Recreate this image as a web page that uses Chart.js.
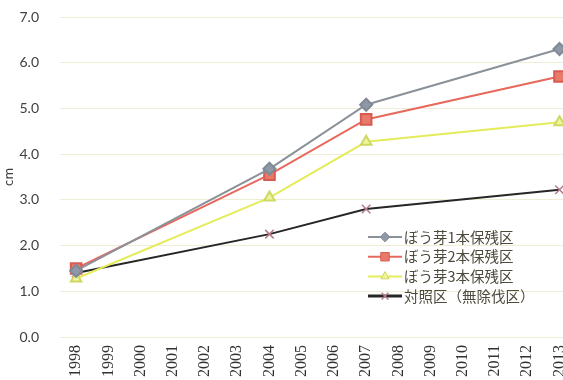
<!DOCTYPE html>
<html>
<head>
<meta charset="utf-8">
<script src="https://cdn.jsdelivr.net/npm/chart.js@4"></script>
<style>
  html, body { margin: 0; padding: 0; background: #ffffff; overflow: hidden; }
  #wrap { width: 587px; height: 380px; position: relative; }
</style>
</head>
<body>
<div id="wrap"><canvas id="c"></canvas></div>
<script>
// Survey years (x categories)
const years = ['1998','1999','2000','2001','2002','2003','2004','2005','2006','2007','2008','2009','2010','2011','2012','2013'];

// Mean growth (cm); measured only in 1998, 2004, 2007 and 2013
const sprout1 = [1.45, null, null, null, null, null, 3.68, null, null, 5.08, null, null, null, null, null, 6.30];
const sprout2 = [1.50, null, null, null, null, null, 3.55, null, null, 4.76, null, null, null, null, null, 5.70];
const sprout3 = [1.28, null, null, null, null, null, 3.05, null, null, 4.27, null, null, null, null, null, 4.70];
const control = [1.40, null, null, null, null, null, 2.25, null, null, 2.80, null, null, null, null, null, 3.22];

const seriesNames = ['ぼう芽1本保残区', 'ぼう芽2本保残区', 'ぼう芽3本保残区', '対照区（無除伐区）'];
const yTicks = [0, 1, 2, 3, 4, 5, 6, 7];

const datasets = [
  { label: seriesNames[0], data: sprout1, borderColor: '#8b9199', backgroundColor: '#8f99a6',
    pointStyle: 'rectRot', pointRadius: 6, borderWidth: 2, pointBorderColor: '#7f8a96' },
  { label: seriesNames[1], data: sprout2, borderColor: '#e8685c', backgroundColor: '#e87a6c',
    pointStyle: 'rect', pointRadius: 7.5, borderWidth: 2, pointBorderColor: '#d95a50' },
  { label: seriesNames[2], data: sprout3, borderColor: '#e4ec5c', backgroundColor: '#eef59a',
    pointStyle: 'triangle', pointRadius: 6, borderWidth: 2, pointBorderColor: '#cfd860' },
  { label: seriesNames[3], data: control, borderColor: '#262626', backgroundColor: '#c08a96',
    pointStyle: 'crossRot', pointRadius: 6, borderWidth: 2, pointBorderColor: '#b57c88', pointBorderWidth: 1.5 }
].map(d => Object.assign({ spanGaps: true, tension: 0, fill: false }, d));

// Legend drawn inside the plot area, lower right
const innerLegend = {
  id: 'innerLegend',
  afterDraw(chart) {
    const ctx = chart.ctx;
    const x0 = 368, y0 = 237, rowH = 19.7;
    ctx.save();
    ctx.font = '14.5px "Noto Sans CJK JP"';
    ctx.textBaseline = 'middle';
    ctx.textAlign = 'left';
    chart.data.datasets.forEach((ds, i) => {
      const y = y0 + i * rowH;
      ctx.strokeStyle = ds.borderColor;
      ctx.lineWidth = i === 3 ? 3 : 2;
      ctx.beginPath();
      ctx.moveTo(x0, y);
      ctx.lineTo(x0 + 34, y);
      ctx.stroke();
      ctx.fillStyle = ds.backgroundColor;
      ctx.strokeStyle = ds.pointBorderColor;
      ctx.lineWidth = ds.pointBorderWidth || 1;
      Chart.helpers.drawPoint(ctx, { pointStyle: ds.pointStyle, radius: ds.pointRadius * 0.8, borderWidth: 1 }, x0 + 17, y);
      ctx.fillStyle = '#4d4a3c';
      ctx.fillText(ds.label, x0 + 36, y);
    });
    ctx.restore();
  }
};

new Chart(document.getElementById('c'), {
  type: 'line',
  data: { labels: years, datasets },
  options: {
    responsive: true,
    maintainAspectRatio: false,
    animation: false,
    layout: { padding: { top: 0, right: 7, bottom: 0, left: 0 } },
    plugins: { legend: { display: false }, tooltip: { enabled: false } },
    scales: {
      x: {
        type: 'category',
        offset: true,
        grid: { display: false, drawTicks: false },
        border: { display: false },
        ticks: {
          minRotation: 90, maxRotation: 90, padding: 8, autoSkip: false,
          color: '#333333', font: { family: '"Liberation Serif"', size: 16 }
        },
        afterFit: s => { s.height = 43; }
      },
      y: {
        min: 0, max: 7,
        afterBuildTicks: s => { s.ticks = yTicks.map(v => ({ value: v })); },
        grid: { color: 'rgba(226,222,180,0.55)', borderDash: [2, 4], drawTicks: false, lineWidth: 1 },
        border: { display: false },
        ticks: {
          padding: 21, color: '#404040',
          font: { family: 'Lato', size: 14 },
          callback: v => v.toFixed(1)
        },
        title: {
          display: true, text: 'cm', color: '#404040',
          font: { family: '"Noto Sans CJK JP"', size: 13 }, padding: { top: 0, bottom: 0 }
        },
        afterFit: s => { s.width = 60; s.paddingTop = 17; s.paddingBottom = 0; }
      }
    }
  },
  plugins: [innerLegend]
});
</script>
</body>
</html>
